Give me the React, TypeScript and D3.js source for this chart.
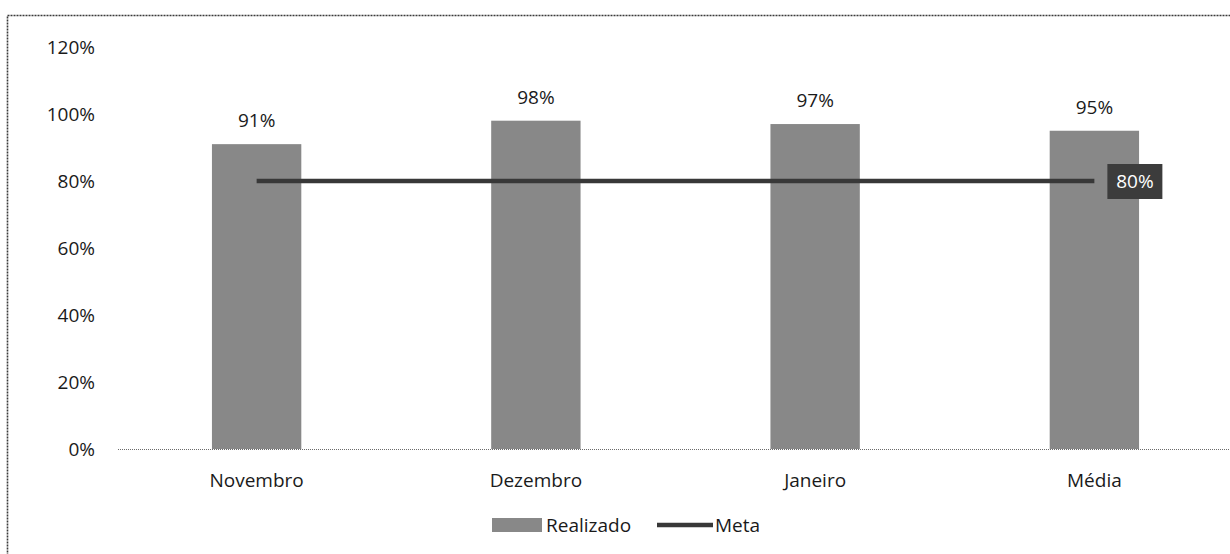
import { useEffect, useRef } from 'react';
import * as d3 from 'd3';

// Chart data
const categories = ['Novembro', 'Dezembro', 'Janeiro', 'Média'];
const realizado = [0.91, 0.98, 0.97, 0.95];
const meta = [0.8, 0.8, 0.8, 0.8];
const yTicks = [0, 0.2, 0.4, 0.6, 0.8, 1.0, 1.2];

const WIDTH = 1230;
const HEIGHT = 554;
const PLOT = { left: 117, right: 1234, top: 47, bottom: 449 };

const FONT = '"Open Sans", "Noto Sans", sans-serif';
const TEXT_COLOR = '#1a1a1a';
const BAR_FILL = '#888888';
const LINE_COLOR = '#383838';

const pct = (v: number) => `${Math.round(v * 100)}%`;

export default function App() {
  const svgRef = useRef<SVGSVGElement>(null);

  useEffect(() => {
    document.body.style.margin = '0';
    if (!svgRef.current) return;

    const svg = d3.select(svgRef.current);
    svg.selectAll('*').remove();

    svg.append('rect').attr('width', WIDTH).attr('height', HEIGHT).attr('fill', '#ffffff');

    // Dotted frame of the chart area (cut off on right and bottom)
    svg
      .append('rect')
      .attr('x', 7.5)
      .attr('y', 15.5)
      .attr('width', WIDTH + 20)
      .attr('height', HEIGHT + 20)
      .attr('fill', 'none')
      .attr('stroke', '#3a3a3a')
      .attr('stroke-width', 1.6)
      .attr('stroke-dasharray', '2 1');

    const x = d3
      .scaleBand()
      .domain(categories)
      .range([PLOT.left, PLOT.right])
      .paddingInner(0.68)
      .paddingOuter(0.34);
    const y = d3.scaleLinear().domain([0, 1.2]).range([PLOT.bottom, PLOT.top]);

    // Y tick labels
    svg
      .append('g')
      .selectAll('text')
      .data(yTicks)
      .enter()
      .append('text')
      .attr('x', 95)
      .attr('y', (d: number) => y(d))
      .attr('dy', '0.36em')
      .attr('text-anchor', 'end')
      .attr('font-family', FONT)
      .attr('font-size', '19px')
      .attr('fill', TEXT_COLOR)
      .text((d: number) => pct(d));

    // Bars
    const bars = svg.append('g');
    categories.forEach((c, i) => {
      bars
        .append('rect')
        .attr('x', x(c))
        .attr('y', y(realizado[i]))
        .attr('width', x.bandwidth())
        .attr('height', y(0) - y(realizado[i]))
        .attr('fill', BAR_FILL);
      bars
        .append('text')
        .attr('x', (x(c) ?? 0) + x.bandwidth() / 2)
        .attr('y', y(realizado[i]) - 17)
        .attr('text-anchor', 'middle')
        .attr('font-family', FONT)
        .attr('font-size', '19px')
        .attr('fill', TEXT_COLOR)
        .text(pct(realizado[i]));
    });

    // Baseline (dotted)
    svg
      .append('line')
      .attr('x1', PLOT.left + 1)
      .attr('x2', WIDTH)
      .attr('y1', y(0) + 0.5)
      .attr('y2', y(0) + 0.5)
      .attr('stroke', '#6a6a6a')
      .attr('stroke-width', 1)
      .attr('stroke-dasharray', '1 1');

    // Category labels
    svg
      .append('g')
      .selectAll('text')
      .data(categories)
      .enter()
      .append('text')
      .attr('x', (d: string) => (x(d) ?? 0) + x.bandwidth() / 2)
      .attr('y', 480)
      .attr('dy', '0.36em')
      .attr('text-anchor', 'middle')
      .attr('font-family', FONT)
      .attr('font-size', '19px')
      .attr('fill', TEXT_COLOR)
      .text((d: string) => d);

    // Meta line
    const line = d3
      .line<number>()
      .x((_d: number, i: number) => (x(categories[i]) ?? 0) + x.bandwidth() / 2)
      .y((d: number) => y(d));
    svg
      .append('path')
      .datum(meta)
      .attr('d', line)
      .attr('fill', 'none')
      .attr('stroke', LINE_COLOR)
      .attr('stroke-width', 4.5);

    // Meta label on the last point
    const lastX = (x(categories[categories.length - 1]) ?? 0) + x.bandwidth() / 2;
    const lastY = y(meta[meta.length - 1]);
    svg
      .append('rect')
      .attr('x', lastX + 13)
      .attr('y', lastY - 17)
      .attr('width', 55)
      .attr('height', 35)
      .attr('fill', '#3c3c3c');
    svg
      .append('text')
      .attr('x', lastX + 13 + 27.5)
      .attr('y', lastY)
      .attr('dy', '0.36em')
      .attr('text-anchor', 'middle')
      .attr('font-family', FONT)
      .attr('font-size', '19px')
      .attr('fill', '#ffffff')
      .text(pct(meta[meta.length - 1]));

    // Legend
    const legendY = 525;
    const legend = svg.append('g');
    legend
      .append('rect')
      .attr('x', 492)
      .attr('y', legendY - 7)
      .attr('width', 50)
      .attr('height', 14)
      .attr('fill', BAR_FILL);
    legend
      .append('text')
      .attr('x', 546)
      .attr('y', legendY)
      .attr('dy', '0.36em')
      .attr('font-family', FONT)
      .attr('font-size', '19px')
      .attr('fill', TEXT_COLOR)
      .text('Realizado');
    legend
      .append('line')
      .attr('x1', 657)
      .attr('x2', 713)
      .attr('y1', legendY)
      .attr('y2', legendY)
      .attr('stroke', LINE_COLOR)
      .attr('stroke-width', 4.5);
    legend
      .append('text')
      .attr('x', 715)
      .attr('y', legendY)
      .attr('dy', '0.36em')
      .attr('font-family', FONT)
      .attr('font-size', '19px')
      .attr('fill', TEXT_COLOR)
      .text('Meta');
  }, []);

  return <svg ref={svgRef} width={WIDTH} height={HEIGHT} style={{ display: 'block' }} />;
}
